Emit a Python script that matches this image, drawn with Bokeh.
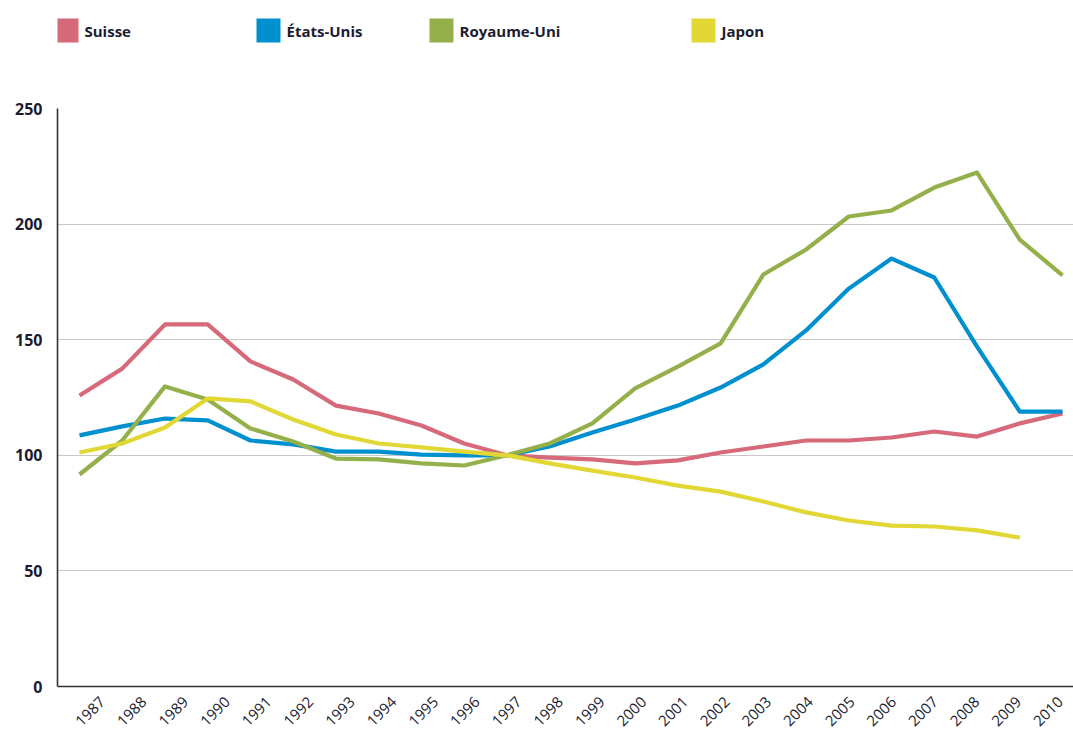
import math
from bokeh.plotting import figure
from bokeh.models import Range1d, FixedTicker, LinearAxis
from bokeh.layouts import column
from bokeh.core.properties import value
from bokeh.embed import file_html
from bokeh.resources import INLINE

years = list(range(1987, 2011))
suisse = [125.9, 137.5, 156.6, 156.6, 140.6, 132.8, 121.5, 118.1, 112.9, 105.1, 100, 99.0,
          98.2, 96.5, 97.8, 101.2, 103.8, 106.4, 106.4, 107.7, 110.3, 108.1, 113.8, 118.1]
etats_unis = [108.6, 112.5, 115.9, 115.1, 106.4, 104.7, 101.6, 101.6, 100.3, 100.0, 100, 103.8,
              109.9, 115.5, 121.5, 129.3, 139.3, 154.0, 172.1, 185.1, 176.9, 147.0, 118.9, 118.9]
royaume_uni = [91.7, 106.4, 129.8, 124.1, 111.6, 106.0, 98.6, 98.2, 96.5, 95.6, 100, 105.1,
               113.8, 128.9, 138.4, 148.4, 178.2, 189.0, 203.3, 205.9, 215.8, 222.3, 193.3, 177.8]
japon_years = list(range(1987, 2010))
japon = [101.2, 105.1, 112.0, 124.6, 123.3, 115.5, 109.0, 105.1, 103.4, 101.6, 100, 96.5,
         93.4, 90.4, 86.9, 84.3, 80.0, 75.3, 71.8, 69.6, 69.2, 67.5, 64.4]
y_ticks = [0, 50, 100, 150, 200, 250]

names = ["Suisse", "États-Unis", "Royaume-Uni", "Japon"]
colors = ["#d6697a", "#0090d0", "#94b04a", "#e2d835"]

FONT = "Open Sans"
TXT = "#1c1c30"
W = 1073
LEFT = 57

# ---------- legend strip (pixel-like coordinates; frame aligned with main frame) ----------
LEG_H = 60
leg = figure(width=W, height=LEG_H, output_backend="svg", toolbar_location=None,
             x_range=Range1d(LEFT, W), y_range=Range1d(0, LEG_H),
             x_axis_location=None, y_axis_location=None,
             min_border=0, min_border_left=LEFT, min_border_right=0,
             min_border_top=0, min_border_bottom=0)
leg.outline_line_color = None
leg.xgrid.visible = False
leg.ygrid.visible = False
leg_sq_x = [66, 268, 441, 703]
leg.rect(x=leg_sq_x, y=[LEG_H - 30] * 4, width=24, height=24, fill_color=colors,
         line_color=None)
leg.text(x=[x + 18 for x in leg_sq_x], y=[LEG_H - 30] * 4, text=names,
         text_font=value(FONT), text_font_style="bold", text_font_size="15px",
         text_color=TXT, text_baseline="middle", text_align="left")

# ---------- main chart ----------
MAIN_H = 738 - LEG_H
p = figure(width=W, height=MAIN_H, output_backend="svg", toolbar_location=None,
           x_range=Range1d(1986.485, 2010.257), y_range=Range1d(0, 250),
           x_axis_location=None,
           min_border_left=LEFT, min_border_right=0, min_border_top=108 - LEG_H,
           min_border_bottom=52)
p.outline_line_color = None

series = [(years, suisse), (years, etats_unis), (years, royaume_uni), (japon_years, japon)]
for (xs, ys), c in zip(series, colors):
    p.line(xs, ys, line_color=c, line_width=4.2, line_join="round")

# x-axis labels on a slightly shifted scale (as in the original)
p.extra_x_ranges = {"lab": Range1d(1985.920, 2010.314)}
xax = LinearAxis(x_range_name="lab", ticker=FixedTicker(ticks=years))
p.add_layout(xax, "below")

p.yaxis.ticker = FixedTicker(ticks=y_ticks)
for ax in (xax, p.yaxis[0]):
    ax.major_tick_in = 0
    ax.major_tick_out = 0
    ax.minor_tick_in = 0
    ax.minor_tick_out = 0
    ax.axis_line_color = "#333333"
    ax.axis_line_width = 1.6
    ax.major_label_text_color = TXT
    ax.major_label_text_font = FONT
p.yaxis.major_label_text_font_size = "16px"
p.yaxis.major_label_text_font_style = "bold"
p.yaxis.major_label_standoff = 15
xax.major_label_text_font_size = "15px"
xax.major_label_text_font_style = "normal"
xax.major_label_orientation = math.pi / 4
xax.major_label_standoff = 13

p.xgrid.grid_line_color = None
p.ygrid.ticker = FixedTicker(ticks=y_ticks)
p.ygrid.grid_line_color = "#c8c8c8"
p.ygrid.grid_line_width = 1

layout = column(leg, p, spacing=0)
open("out.html", "w").write(file_html(layout, INLINE))
